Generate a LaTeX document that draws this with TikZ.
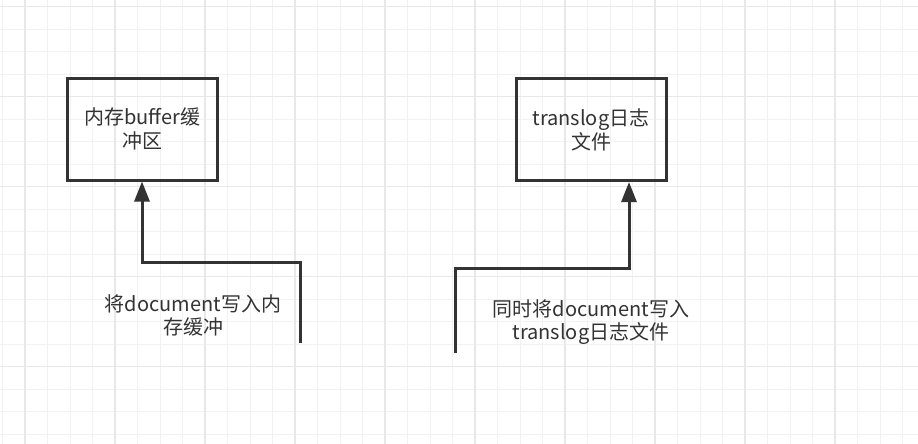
\documentclass[tikz,border=0pt]{standalone}
\usepackage{fontspec}
\setmainfont{Noto Sans CJK SC}
\usetikzlibrary{arrows.meta}
\definecolor{ink}{HTML}{333333}
\definecolor{gminor}{HTML}{F2F2F2}
\definecolor{gmajor}{HTML}{E8E8E8}
\tikzset{
  boxnode/.style={draw=ink, line width=3pt, minimum width=150pt, minimum height=102pt, align=center, text=ink, inner sep=0pt, font=\fontsize{20}{24}\selectfont},
  lbl/.style={align=center, text=ink, inner sep=0pt, font=\fontsize{20}{23}\selectfont},
  conn/.style={draw=ink, line width=3pt, -{Triangle[length=20pt,width=15pt]}}
}
\begin{document}
\begin{tikzpicture}[x=1pt,y=-1pt]
\useasboundingbox (0,0) rectangle (918,444);
\fill[white] (0,0) rectangle (918,444);
% grid
\foreach \i in {0,...,41} {
  \draw[gminor, line width=1pt] ({2.5+22.5*\i},0) -- ({2.5+22.5*\i},444);
}
\foreach \j in {0,...,19} {
  \draw[gminor, line width=1pt] (0,{6.7+22.5*\j}) -- (918,{6.7+22.5*\j});
}
\foreach \i in {0,...,10} {
  \draw[gmajor, line width=1.2pt] ({25+90*\i},0) -- ({25+90*\i},444);
}
\foreach \j in {0,...,4} {
  \draw[gmajor, line width=1.2pt] (0,{6.7+90*\j}) -- (918,{6.7+90*\j});
}
% boxes
\node[boxnode] (lb) at (142,129) {内存buffer缓\\冲区};
\node[boxnode] (rb) at (591,129.5) {translog日志\\文件};
% connectors
\coordinate (s1) at (300,343);
\coordinate (m1) at (142,262);
\draw[conn, line join=miter] (s1) |- (m1) -- (lb.south);
\coordinate (s2) at (455.5,353);
\coordinate (m2) at (629,268);
\draw[conn, line join=miter] (s2) |- (m2) -- (m2 |- rb.south);
% labels
\node[lbl] (l1) at (193,315.5) {将document写入内\\存缓冲};
\node[lbl] (l2) at (591,322.5) {同时将document写入\\translog日志文件};
\end{tikzpicture}
\end{document}
